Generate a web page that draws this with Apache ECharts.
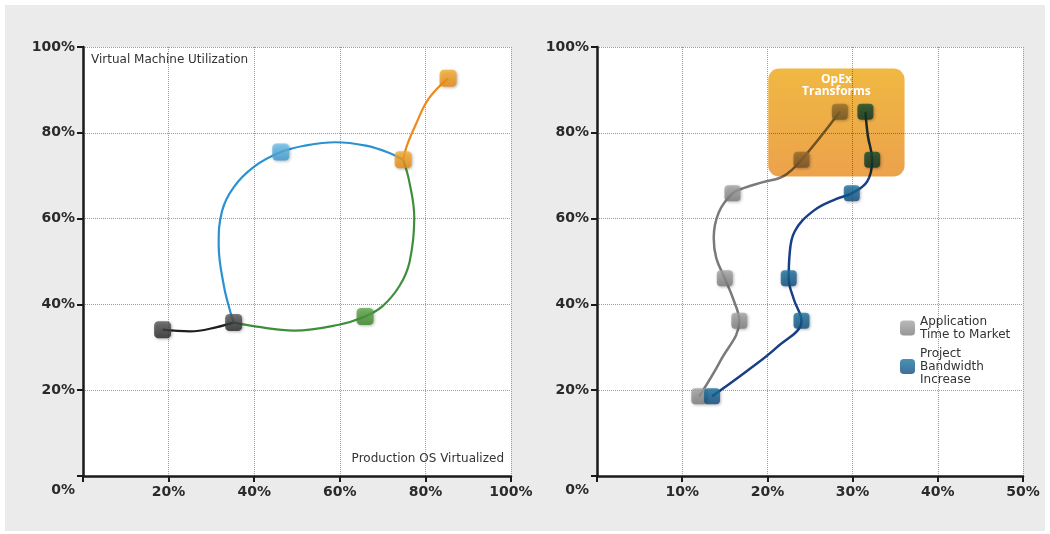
<!DOCTYPE html>
<html>
<head>
<meta charset="utf-8">
<script src="https://cdn.jsdelivr.net/npm/echarts@6/dist/echarts.min.js"></script>
<style>
  html, body { margin: 0; padding: 0; background: #ffffff; }
  #panel { position: absolute; left: 5px; top: 5px; width: 1040px; height: 526px; background: #ebebeb; }
  .layer { position: absolute; left: 0; top: 0; width: 1050px; height: 534px; }
  #boxLayer { mix-blend-mode: multiply; pointer-events: none; }
  #labelLayer { pointer-events: none; }
</style>
</head>
<body>
<div id="panel"></div>
<div id="chart" class="layer"></div>
<div id="boxLayer" class="layer"></div>
<div id="labelLayer" class="layer"></div>
<script>
// ---- Left panel: Production OS Virtualized (x) vs Virtual Machine Utilization (y), in %
const leftXTitle = 'Production OS Virtualized';
const leftYTitle = 'Virtual Machine Utilization';

// traced curve points for each phase, and the stage markers on them
const blackPath  = [[18.6, 34.1], [25.0, 33.7], [31.3, 34.7], [35.2, 35.8]];
const blackStages = [[18.6, 34.1], [35.2, 35.8]];
const bluePath   = [[35.2, 35.8], [34.5, 38.0], [32.9, 44.4], [31.7, 53.9], [32.5, 61.8], [35.2, 67.3],
                    [40.0, 72.1], [46.2, 75.5], [51.8, 77.0], [59.0, 77.8], [66.1, 77.0], [71.6, 75.3], [74.8, 73.7]];
const blueStages = [[46.2, 75.5]];
const greenPath  = [[74.8, 73.7], [76.2, 68.8], [77.4, 60.2], [76.3, 49.9], [74.0, 44.4],
                    [70.0, 39.6], [65.9, 37.2], [59.5, 35.2], [49.3, 33.9], [40.6, 34.8], [35.2, 35.8]];
const greenStages = [[65.9, 37.2]];
const orangePath = [[74.8, 73.7], [75.6, 76.8], [77.6, 81.6], [80.8, 88.0], [85.3, 92.7]];
const orangeStages = [[74.8, 73.7], [85.3, 92.7]];

// ---- Right panel: two measures against the same stage levels (y, %)
const stageY        = [18.6, 36.2, 46.1, 65.9, 73.7, 84.9];
const appTimeX      = [12.0, 16.7, 15.0, 15.9, 24.0, 28.5];
const bandwidthX    = [13.5, 24.0, 22.5, 29.9, 32.3, 31.5];
const appTimePath   = [[12.0, 18.6], [14.5, 26.9], [16.7, 36.2], [16.0, 41.2], [15.0, 46.1], [14.0, 50.8],
                       [13.7, 55.5], [14.3, 61.5], [15.9, 65.9], [17.2, 67.1], [19.5, 68.5], [21.9, 69.9],
                       [24.0, 73.7], [28.5, 84.9]];
const bandwidthPath = [[13.5, 18.6], [17.6, 24.5], [21.1, 30.0], [24.0, 36.2], [23.1, 41.2], [22.5, 46.1],
                       [22.6, 51.5], [23.2, 57.0], [25.4, 61.8], [28.1, 64.6], [29.9, 65.9], [31.7, 68.6],
                       [32.3, 73.7], [31.8, 79.2], [31.5, 84.9]];
const seriesNames = ['Application Time to Market', 'Project Bandwidth Increase'];
const legendLabels = {
  'Application Time to Market': 'Application\nTime to Market',
  'Project Bandwidth Increase': 'Project\nBandwidth\nIncrease'
};
// highlighted region: [xMin, yMin, xMax, yMax]
const opexBox = [20.1, 69.8, 36.1, 95.0];
const opexLabel = 'OpEx\nTransforms';

const leftXTicks = { min: 0, max: 100, interval: 20 };
const rightXTicks = { min: 0, max: 50, interval: 10 };
const yTicks = { min: 0, max: 100, interval: 20 };

const FONT = 'DejaVu Sans';
const grids = [
  { left: 83, top: 47, width: 428, height: 429 },
  { left: 597, top: 47, width: 426, height: 429 }
];

function vgrad(top, bottom) {
  return new echarts.graphic.LinearGradient(0, 0, 0, 1, [
    { offset: 0, color: top }, { offset: 1, color: bottom }
  ]);
}

const squareShadow = { shadowBlur: 3, shadowColor: 'rgba(0,0,0,0.35)', shadowOffsetX: 1, shadowOffsetY: 1 };

function pathSeries(name, data, color, width, gi) {
  return {
    name: name, type: 'line', data: data, xAxisIndex: gi, yAxisIndex: gi,
    smooth: 0.4, showSymbol: false, symbol: 'none', z: 2,
    lineStyle: { color: color, width: width }, emphasis: { disabled: true }, silent: true
  };
}
function stageSeries(name, data, top, bottom, gi, size) {
  return {
    name: name, type: 'scatter', data: data, xAxisIndex: gi, yAxisIndex: gi,
    symbol: 'roundRect', symbolSize: size, z: 3,
    itemStyle: Object.assign({ color: vgrad(top, bottom) }, squareShadow),
    emphasis: { disabled: true }, silent: true
  };
}

function xAxisCfg(gi, ticks) {
  return {
    type: 'value', gridIndex: gi, min: ticks.min, max: ticks.max, interval: ticks.interval,
    axisLine: { show: true, onZero: false, lineStyle: { color: '#1a1a1a', width: 2.5 } },
    axisTick: { show: true, length: 6, lineStyle: { color: '#1a1a1a', width: 2 } },
    axisLabel: {
      margin: 9, color: '#2a2a2a', fontFamily: FONT, fontSize: 14, fontWeight: 'bold',
      formatter: v => (v === 0 ? '' : v + '%')
    },
    splitLine: { show: true, lineStyle: { color: '#9a9a9a', type: [1, 1], width: 1 } }
  };
}
function yAxisCfg(gi) {
  return {
    type: 'value', gridIndex: gi, min: yTicks.min, max: yTicks.max, interval: yTicks.interval,
    axisLine: { show: true, onZero: false, lineStyle: { color: '#1a1a1a', width: 2.5 } },
    axisTick: { show: true, length: 6, lineStyle: { color: '#1a1a1a', width: 2 } },
    axisLabel: {
      margin: 8, color: '#2a2a2a', fontFamily: FONT, fontSize: 14, fontWeight: 'bold', lineHeight: 28,
      // the corner 0% sits on the x label row
      formatter: v => (v === 0 ? '\n0%' : v + '%')
    },
    splitLine: { show: true, lineStyle: { color: '#9a9a9a', type: [1, 1], width: 1 } }
  };
}

// ---- main chart: axes, grids, curves, markers, legend
const chart = echarts.init(document.getElementById('chart'), null, { renderer: 'canvas' });
chart.setOption({
  animation: false,
  backgroundColor: 'transparent',
  title: [
    { text: leftYTitle, left: 91, top: 54, padding: 0,
      textStyle: { fontFamily: FONT, fontSize: 12, fontWeight: 'normal', color: '#333' } },
    { text: leftXTitle, right: 546, top: 453, padding: 0,
      textStyle: { fontFamily: FONT, fontSize: 12, fontWeight: 'normal', color: '#333' } }
  ],
  grid: grids.map(g => Object.assign({ show: true, backgroundColor: '#ffffff', borderWidth: 0 }, g)),
  xAxis: [xAxisCfg(0, leftXTicks), xAxisCfg(1, rightXTicks)],
  yAxis: [yAxisCfg(0), yAxisCfg(1)],
  legend: {
    orient: 'vertical', left: 900, top: 315, padding: 0, itemWidth: 15, itemHeight: 15, itemGap: 6,
    icon: 'roundRect', selectedMode: false,
    data: [
      { name: seriesNames[0], itemStyle: { color: vgrad('#a8a8a8', '#7c7c7c') } },
      { name: seriesNames[1], itemStyle: { color: vgrad('#1c76a2', '#0f4b7e') } }
    ],
    formatter: n => legendLabels[n],
    textStyle: { fontFamily: FONT, fontSize: 12, color: '#333', lineHeight: 13 }
  },
  series: [
    // left panel
    pathSeries('phase 1 path', blackPath, '#1e1e1e', 2.2, 0),
    pathSeries('phase 2 path', bluePath, '#2a92d2', 2.2, 0),
    pathSeries('phase 3 path', greenPath, '#3e8f3c', 2.2, 0),
    pathSeries('phase 4 path', orangePath, '#ee8a1c', 2.2, 0),
    stageSeries('phase 1', blackStages, '#5c5c5c', '#262626', 0, 17),
    stageSeries('phase 2', blueStages, '#72c4ea', '#3a9bd5', 0, 17),
    stageSeries('phase 3', greenStages, '#62ab4a', '#3b882d', 0, 17),
    stageSeries('phase 4', orangeStages, '#f7b232', '#ea8912', 0, 17),
    // right panel
    pathSeries(seriesNames[0] + ' path', appTimePath, '#7a7a7a', 2.5, 1),
    pathSeries(seriesNames[1] + ' path', bandwidthPath, '#183f88', 2.5, 1),
    stageSeries(seriesNames[0], appTimeX.map((x, i) => [x, stageY[i]]), '#a8a8a8', '#7c7c7c', 1, 16),
    stageSeries(seriesNames[1], bandwidthX.map((x, i) => [x, stageY[i]]), '#1c76a2', '#0f4b7e', 1, 16)
  ]
});

// ---- overlay layers for the OpEx region: a tinted box (multiplied over the
// right panel) and its white caption on top, on the same hidden right-hand axes
function overlayOption(renderItem) {
  return {
    animation: false,
    backgroundColor: 'transparent',
    grid: [Object.assign({ show: false }, grids[1])],
    xAxis: [{ type: 'value', show: false, min: rightXTicks.min, max: rightXTicks.max }],
    yAxis: [{ type: 'value', show: false, min: yTicks.min, max: yTicks.max }],
    series: [{ type: 'custom', silent: true, clip: false, data: [opexBox], renderItem: renderItem }]
  };
}
function boxCorners(api) {
  return [api.coord([api.value(0), api.value(3)]), api.coord([api.value(2), api.value(1)])];
}

const boxLayer = echarts.init(document.getElementById('boxLayer'), null, { renderer: 'canvas' });
boxLayer.setOption(overlayOption(function (params, api) {
  const [p0, p1] = boxCorners(api);
  return {
    type: 'rect',
    shape: { x: p0[0], y: p0[1], width: p1[0] - p0[0], height: p1[1] - p0[1], r: 11 },
    style: {
      fill: { type: 'linear', x: 0, y: 0, x2: 0, y2: 1,
              colorStops: [{ offset: 0, color: '#f0b842' }, { offset: 1, color: '#eca24c' }] }
    }
  };
}));

const labelLayer = echarts.init(document.getElementById('labelLayer'), null, { renderer: 'canvas' });
labelLayer.setOption(overlayOption(function (params, api) {
  const [p0, p1] = boxCorners(api);
  return {
    type: 'text',
    style: {
      text: opexLabel, x: (p0[0] + p1[0]) / 2, y: p0[1] + 5,
      align: 'center', verticalAlign: 'top', fill: '#ffffff',
      font: 'bold 12px "Open Sans"', lineHeight: 12
    }
  };
}));
</script>
</body>
</html>
